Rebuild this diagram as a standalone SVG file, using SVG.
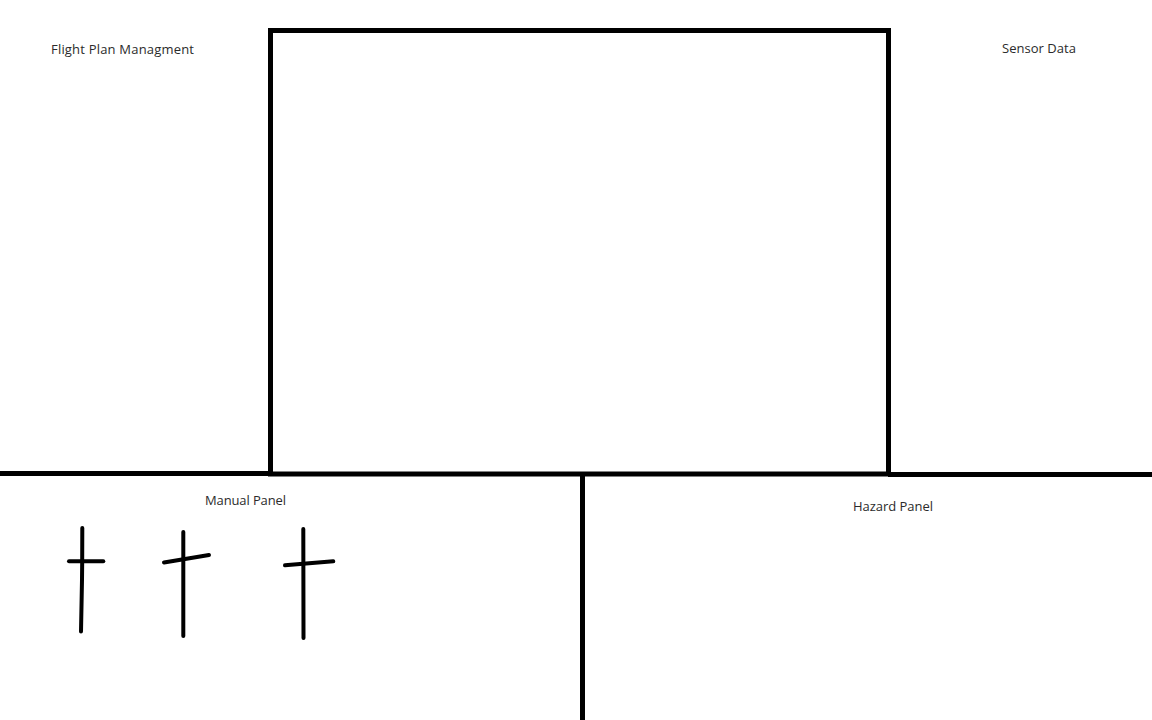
<svg xmlns="http://www.w3.org/2000/svg" width="1152" height="720" viewBox="0 0 1152 720">
<style>
.ln{stroke:#000;stroke-width:5;fill:none;stroke-linecap:butt}
.pen{stroke:#000;stroke-width:4;fill:none;stroke-linecap:round;stroke-linejoin:round}
.lbl{font-family:"Open Sans","Noto Sans","Liberation Sans",sans-serif;font-size:13px;fill:#2b2b2b}
</style>
<rect width="1152" height="720" fill="#fff"/>
<g id="connectors">
<line class="ln" x1="0" y1="473.5" x2="270" y2="473.5"/>
<line class="ln" x1="888" y1="474.5" x2="1152" y2="474.5"/>
<line class="ln" x1="582.5" y1="476" x2="582.5" y2="720"/>
</g>
<g id="main-view">
<rect class="ln" x="270.5" y="30.5" width="618" height="443.5"/>
</g>
<g id="flight-plan"><text class="lbl" x="51" y="54" textLength="143">Flight Plan Managment</text></g>
<g id="sensor-data"><text class="lbl" x="1002" y="53" textLength="74">Sensor Data</text></g>
<g id="manual-panel">
<text class="lbl" x="205" y="505" textLength="81">Manual Panel</text>
<path class="pen" d="M82.3 528 L82.2 561 M82 580 L81 631.5 M82.2 561 L82 580"/>
<path class="pen" d="M69 561.3 L103.3 561.3"/>
<path class="pen" d="M183.3 532 L183.3 636"/>
<path class="pen" d="M164 562.5 L209 555"/>
<path class="pen" d="M303.3 529 L303.5 638"/>
<path class="pen" d="M285 565.3 L333.3 561.3"/>
</g>
<g id="hazard-panel"><text class="lbl" x="853" y="511" textLength="80">Hazard Panel</text></g>
</svg>
